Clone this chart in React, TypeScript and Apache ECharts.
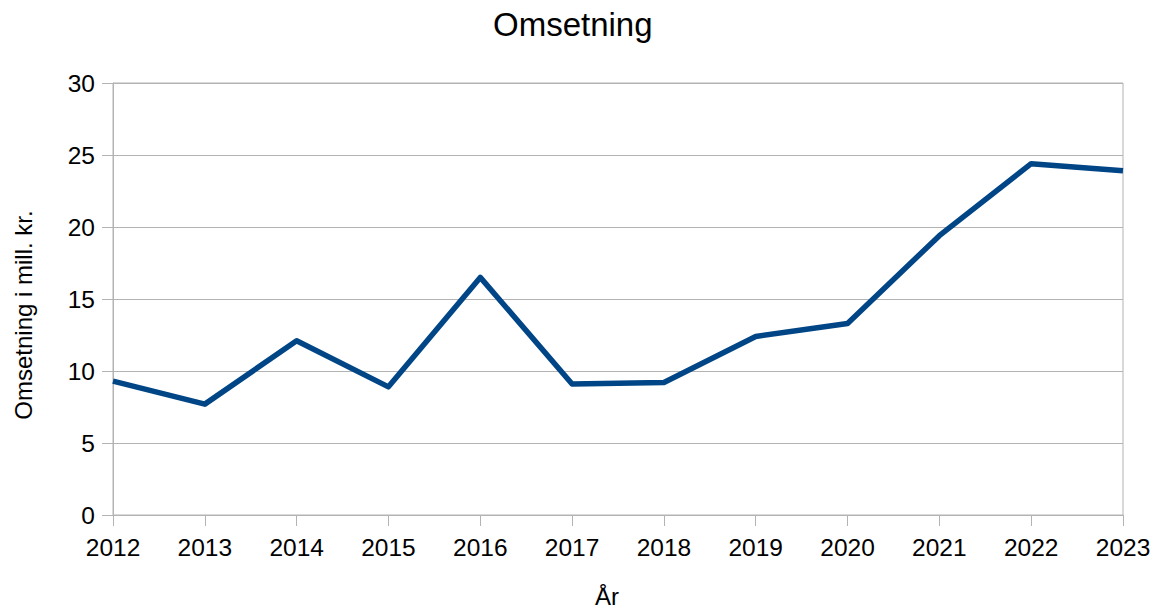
import React, { useEffect, useRef } from "react";
import * as echarts from "echarts";

const years = ["2012", "2013", "2014", "2015", "2016", "2017", "2018", "2019", "2020", "2021", "2022", "2023"];
const omsetning = [9.3, 7.7, 12.1, 8.9, 16.5, 9.1, 9.2, 12.4, 13.3, 19.4, 24.4, 23.9];

export default function App() {
  const ref = useRef<HTMLDivElement>(null);
  useEffect(() => {
    if (!ref.current) return;
    const chart = echarts.init(ref.current, null, { renderer: "svg" });
    const font = "'Liberation Sans', Arial, sans-serif";
    chart.setOption({
      animation: false,
      backgroundColor: "#ffffff",
      title: {
        text: "Omsetning",
        left: 488,
        top: 3,
        textStyle: { fontFamily: font, fontSize: 33, fontWeight: "normal", color: "#000" },
      },
      grid: {
        left: 113,
        right: 40,
        top: 83,
        bottom: 93,
        show: true,
        borderColor: "#b3b3b3",
        borderWidth: 1,
        outerBoundsMode: "none",
        containLabel: false,
      },
      xAxis: {
        type: "category",
        data: years,
        boundaryGap: false,
        name: "År",
        nameLocation: "middle",
        nameGap: 69,
        nameTextStyle: { fontFamily: font, fontSize: 24, color: "#000", padding: [0, 22, 0, 0] },
        axisLine: { lineStyle: { color: "#b3b3b3", width: 1 } },
        axisTick: { show: true, length: 11, lineStyle: { color: "#b3b3b3" } },
        axisLabel: { fontFamily: font, fontSize: 24.5, color: "#000", margin: 20 },
        splitLine: { show: false },
      },
      yAxis: {
        type: "value",
        min: 0,
        max: 30,
        interval: 5,
        name: "Omsetning i mill. kr.",
        nameLocation: "middle",
        nameGap: 78,
        nameTextStyle: { fontFamily: font, fontSize: 24, color: "#000", padding: [0, 32, 0, 0] },
        axisLine: { show: true, lineStyle: { color: "#b3b3b3", width: 1 } },
        axisTick: { show: true, length: 11, lineStyle: { color: "#b3b3b3" } },
        axisLabel: { fontFamily: font, fontSize: 24.5, color: "#000", margin: 18 },
        splitLine: { show: true, lineStyle: { color: "#b3b3b3", width: 1 } },
      },
      series: [
        {
          type: "line",
          data: omsetning,
          symbol: "none",
          lineStyle: { color: "#004586", width: 5.5, join: "round" },
          itemStyle: { color: "#004586" },
        },
      ],
    });
    return () => chart.dispose();
  }, []);
  return <div ref={ref} style={{ width: 1163, height: 608, position: "absolute", left: 0, top: 0 }} />;
}
